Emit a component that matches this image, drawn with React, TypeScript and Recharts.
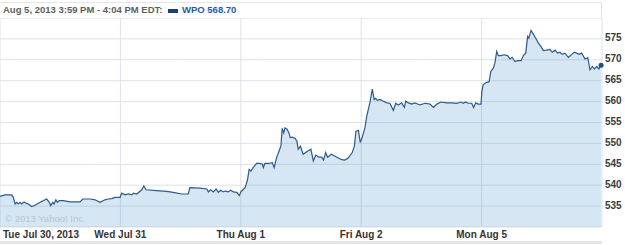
import React from 'react';
import { AreaChart, Area, XAxis, YAxis, CartesianGrid } from 'recharts';

// Trading minutes per session (9:30 - 16:00)
const SESSION = 390;

const dayLabels = ['Tue Jul 30, 2013', 'Wed Jul 31', 'Thu Aug 1', 'Fri Aug 2', 'Mon Aug 5'];
const yTicks = [535, 540, 545, 550, 555, 560, 565, 570, 575];

// minutes since the open, per day
const tueTimes = [0, 16, 38, 43, 49, 54, 59, 65, 70, 78, 84, 92, 103, 113, 130, 151, 160, 164, 171, 175, 181, 186, 192, 205, 227, 259, 268, 292, 308, 324, 340, 351, 362, 373, 389];
const tuePrices = [537.3, 537.7, 537.7, 537.1, 535.5, 535.9, 535.5, 535.9, 535.5, 536.0, 535.7, 535.5, 534.9, 535.2, 535.9, 536.7, 535.9, 535.1, 535.9, 535.5, 536.5, 535.9, 536.3, 536.3, 536.0, 536.0, 536.7, 536.7, 536.5, 535.9, 536.5, 536.7, 536.8, 537.1, 537.1];

const wedTimes = [4, 15, 26, 37, 42, 53, 69, 76, 83, 118, 150, 171, 199, 220, 225, 258, 280, 285, 292, 301, 310, 317, 325, 333, 339, 349, 357, 366, 377, 385];
const wedPrices = [538.1, 537.7, 537.9, 537.7, 538.1, 537.9, 538.9, 539.8, 538.9, 538.7, 538.5, 538.3, 537.9, 537.9, 539.4, 539.3, 539.1, 538.4, 538.9, 538.4, 539.1, 538.3, 538.8, 538.4, 538.6, 538.4, 538.8, 538.4, 538.3, 537.5];

const thuTimes = [1, 14, 22, 27, 33, 40, 51, 62, 70, 73, 78, 89, 102, 108, 116, 124, 130, 134, 139, 143, 150, 156, 160, 167, 176, 182, 186, 193, 202, 217, 227, 235, 243, 253, 262, 268, 275, 281, 294, 311, 327, 337, 348, 361, 368, 373, 381, 387];
const thuPrices = [538.5, 539.4, 541.4, 543.8, 543.4, 544.2, 545.2, 545.2, 545.0, 544.2, 545.2, 545.2, 545.4, 544.2, 546.6, 548.2, 549.4, 553.6, 552.5, 553.7, 553.4, 552.5, 551.4, 551.5, 551.2, 550.5, 548.6, 549.3, 547.4, 548.2, 548.6, 545.8, 547.2, 546.7, 546.7, 546.0, 547.8, 546.7, 547.4, 546.7, 546.1, 546.0, 546.5, 547.8, 549.4, 552.9, 553.1, 550.2];

const friTimes = [3, 12, 18, 28, 36, 42, 47, 53, 61, 72, 83, 93, 104, 112, 120, 131, 140, 144, 153, 164, 174, 190, 207, 223, 234, 245, 258, 277, 293, 309, 323, 331, 338, 347, 358, 364, 371, 379, 388];
const friPrices = [551.4, 553.7, 556.5, 559.7, 563.0, 560.5, 560.8, 560.3, 560.5, 560.1, 559.7, 559.6, 557.9, 559.6, 559.2, 559.7, 558.6, 560.1, 559.7, 559.4, 559.7, 559.2, 559.6, 559.4, 558.6, 559.4, 559.9, 559.7, 559.7, 559.6, 559.9, 559.6, 559.9, 559.6, 559.6, 558.6, 559.7, 559.4, 559.4];

const monTimes = [1, 5, 16, 24, 30, 38, 43, 49, 54, 63, 73, 84, 92, 99, 108, 117, 128, 135, 143, 149, 153, 160, 167, 175, 184, 192, 200, 211, 221, 229, 238, 246, 254, 261, 270, 281, 292, 300, 308, 315, 324, 335, 344, 351, 359, 365, 373, 380, 387];
const monPrices = [562.5, 564.0, 564.6, 564.7, 567.2, 568.0, 569.2, 572.0, 571.0, 571.0, 571.2, 571.0, 570.2, 570.6, 569.6, 569.8, 569.8, 571.0, 571.6, 575.6, 575.2, 577.0, 576.2, 575.2, 574.0, 573.2, 572.2, 572.3, 572.5, 571.8, 572.3, 571.6, 571.8, 571.3, 571.6, 570.6, 571.3, 571.8, 571.6, 571.3, 571.6, 570.2, 570.5, 567.6, 568.4, 567.8, 568.4, 567.8, 568.7];

const days = [
  [tueTimes, tuePrices],
  [wedTimes, wedPrices],
  [thuTimes, thuPrices],
  [friTimes, friPrices],
  [monTimes, monPrices],
];

const data: { t: number; p: number }[] = [];
days.forEach(([times, prices], d) => {
  times.forEach((m, i) => data.push({ t: d * SESSION + m, p: prices[i] }));
});
const lastIndex = data.length - 1;

const FONT = '"Liberation Sans", Arial, sans-serif';

const XTick = (props: any) => {
  const { x, payload } = props;
  const idx = Math.round(payload.value / SESSION);
  const first = idx === 0;
  return (
    <text
      x={first ? x + 3 : x}
      y={238}
      textAnchor={first ? 'start' : 'middle'}
      fontFamily={FONT}
      fontWeight="bold"
      fontSize={10}
      fill="#333"
    >
      {dayLabels[idx]}
    </text>
  );
};

const EndDot = (props: any) => {
  const { cx, cy, index } = props;
  if (index !== lastIndex) return <g key={index} />;
  return <circle key={index} cx={cx} cy={cy} r={2.5} fill="#1f4f86" stroke="none" />;
};

export default function App() {
  return (
    <div style={{ position: 'absolute', left: 0, top: 0, width: 625, height: 245, background: '#fff', fontFamily: FONT }}>
      <AreaChart width={625} height={245} data={data} margin={{ top: 18, right: 0, bottom: 0, left: 0 }}>
        <CartesianGrid
          stroke="#dde3ea"
          strokeWidth={1}
          horizontalValues={[530, 535, 540, 545, 550, 555, 560, 565, 570, 575, 580]}
          verticalValues={[0, 390, 780, 1170, 1560, 1950]}
        />
        <XAxis
          dataKey="t"
          type="number"
          domain={[0, 1950]}
          ticks={[0, 390, 780, 1170, 1560]}
          height={18}
          axisLine={false}
          tickLine={false}
          tick={<XTick />}
          interval={0}
        />
        <YAxis
          orientation="right"
          type="number"
          domain={[530, 580]}
          ticks={yTicks}
          width={23}
          axisLine={false}
          tickLine={false}
          tickSize={0}
          tickMargin={3}
          interval={0}
          tick={{ fontFamily: FONT, fontWeight: 'bold', fontSize: 10, fill: '#3a3a3a', dy: -1 }}
        />
        <Area
          type="linear"
          dataKey="p"
          stroke="#2b5b8e"
          strokeWidth={1.2}
          fill="#5b9bcb"
          fillOpacity={0.25}
          isAnimationActive={false}
          dot={<EndDot />}
          activeDot={false}
        />
      </AreaChart>
      {/* header band */}
      <div
        style={{
          position: 'absolute',
          left: 0,
          top: 2,
          width: 601,
          height: 15,
          borderTop: '1px solid #e3e7ec',
          borderRight: '1px solid #dde3ea',
          background: '#fff',
        }}
      >
        <span style={{ position: 'absolute', left: 3, top: 1, fontSize: 9.5, fontWeight: 'bold', color: '#5e5e5e', whiteSpace: 'nowrap' }}>
          Aug 5, 2013 3:59 PM - 4:04 PM EDT:
        </span>
        <span style={{ position: 'absolute', left: 168, top: 6, width: 10, height: 4, background: '#1c3f78' }} />
        <span style={{ position: 'absolute', left: 182, top: 1, fontSize: 9.5, fontWeight: 'bold', color: '#1f5aa6', whiteSpace: 'nowrap' }}>
          WPO 568.70
        </span>
      </div>
      {/* copyright */}
      <div style={{ position: 'absolute', left: 5, top: 213, fontSize: 9.5, color: '#b4c6d6', whiteSpace: 'nowrap' }}>
        © 2013 Yahoo! Inc.
      </div>
      {/* bottom rule */}
      <div style={{ position: 'absolute', left: 0, top: 241, width: 602, height: 3, background: '#e4e4e4' }} />
    </div>
  );
}
